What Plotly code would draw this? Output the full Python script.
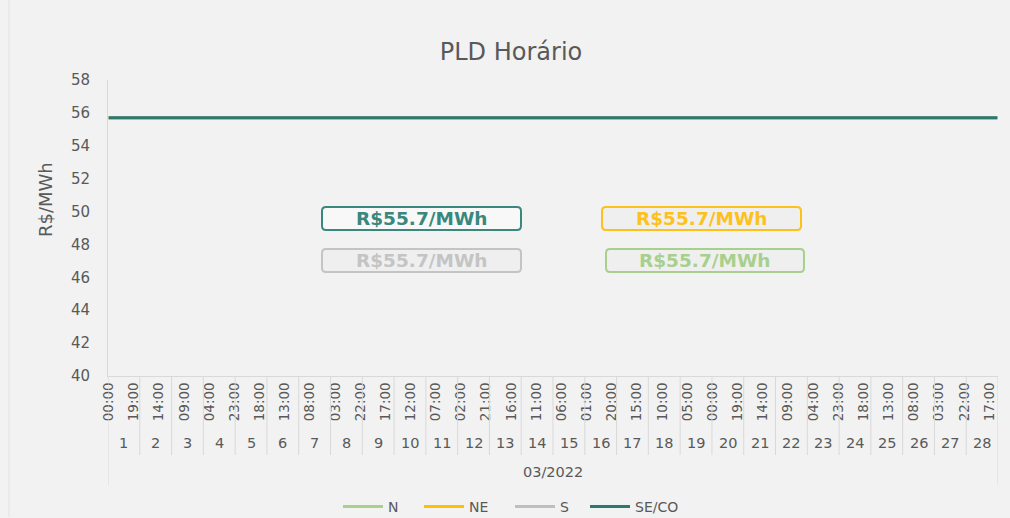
import pandas as pd
import plotly.graph_objects as go

# ---------------- data ----------------
hours = pd.date_range("2022-03-01 00:00", "2022-03-28 23:00", freq="h")
n_hours = len(hours)
days = list(range(1, 29))
month_label = "03/2022"
series_names = ["N", "NE", "S", "SE/CO"]
pld_value = {"N": 55.7, "NE": 55.7, "S": 55.7, "SE/CO": 55.7}   # flat PLD (minimum price) all month
pld_series = {k: [v] * n_hours for k, v in pld_value.items()}
tick_step = 19
tick_idx = list(range(0, n_hours, tick_step))
tick_text = [hours[i].strftime("%H:%M") for i in tick_idx]

# ---------------- style ----------------
colors = {"N": "#a9d18e", "NE": "#ffc000", "S": "#bfbfbf", "SE/CO": "#2a7a70"}
txt_colors = {"N": "#a8d08d", "NE": "#fdc11a", "S": "#c4c4c4", "SE/CO": "#3a877d"}
box_bg = {"N": "#efefef", "NE": "#efefef", "S": "#efefef", "SE/CO": "#f8f8f8"}
legend_x_px = {"N": 343, "NE": 424, "S": 515, "SE/CO": 590}
FONT = "DejaVu Sans"
GRAY = "#595959"
LINE = "#d9d9d9"

W, H = 1010, 518
L, R, T, B = 108, 12, 80, 142
PW, PH = W - L - R, H - T - B


def px(xp):
    return (xp - L) / PW


def py(yp):
    return (T + PH - yp) / PH


fig = go.Figure()
x_idx = list(range(n_hours))
legend_layouts = {}
for i, name in enumerate(series_names):
    lg = "legend" if i == 0 else f"legend{i + 1}"
    fig.add_trace(go.Scatter(
        x=x_idx, y=pld_series[name], mode="lines", name=name, legend=lg,
        line=dict(color=colors[name], width=3),
        text=[h.strftime("%d/%m %H:%M") for h in hours],
        hovertemplate="%{text}<br>%{y} R$/MWh<extra>" + name + "</extra>",
    ))
    legend_layouts[lg] = dict(
        orientation="h", xref="container", yref="container",
        x=(legend_x_px[name] - 5) / W, xanchor="left", y=1 - 507 / H,
        yanchor="middle", font=dict(family=FONT, size=14, color=GRAY),
        bgcolor="rgba(0,0,0,0)", itemwidth=40)

shapes = []
# day separators in the multi-level category axis
for k in range(len(days) + 1):
    xv = 24 * k - 0.5
    outer = k == 0 or k == len(days)
    shapes.append(dict(type="line", xref="x", yref="paper", x0=xv, x1=xv,
                       y0=0, y1=py(485) if outer else py(455),
                       line=dict(color=LINE, width=1)))
# faint chart-area border on the left
shapes.append(dict(type="line", xref="paper", yref="paper", x0=px(9), x1=px(9),
                   y0=py(0), y1=py(517), line=dict(color="#e2e2e2", width=1)))

annotations = []
for d in days:
    annotations.append(dict(x=24 * (d - 1) + 11.5, y=py(443), xref="x", yref="paper",
                            text=str(d), showarrow=False, yanchor="middle",
                            font=dict(family=FONT, size=14.5, color=GRAY)))
annotations.append(dict(x=(n_hours - 1) / 2, y=py(472), xref="x", yref="paper",
                        text=month_label, showarrow=False, yanchor="middle",
                        font=dict(family=FONT, size=14.5, color=GRAY)))
annotations.append(dict(x=px(45), y=py(200), xref="paper", yref="paper",
                        text="R$/MWh", textangle=-90, showarrow=False,
                        xanchor="center", yanchor="middle",
                        font=dict(family=FONT, size=18, color=GRAY)))

# value text boxes (rounded)
boxes = {"SE/CO": (322, 521, 207, 230), "NE": (602, 801, 207, 230),
         "S": (322, 521, 249, 272), "N": (606, 804, 249, 272)}
r = 4
for name, (x0, x1, y0, y1) in boxes.items():
    path = (f"M {px(x0 + r)},{py(y0)} L {px(x1 - r)},{py(y0)} "
            f"Q {px(x1)},{py(y0)} {px(x1)},{py(y0 + r)} L {px(x1)},{py(y1 - r)} "
            f"Q {px(x1)},{py(y1)} {px(x1 - r)},{py(y1)} L {px(x0 + r)},{py(y1)} "
            f"Q {px(x0)},{py(y1)} {px(x0)},{py(y1 - r)} L {px(x0)},{py(y0 + r)} "
            f"Q {px(x0)},{py(y0)} {px(x0 + r)},{py(y0)} Z")
    shapes.append(dict(type="path", xref="paper", yref="paper", path=path,
                       line=dict(color=txt_colors[name], width=2),
                       fillcolor=box_bg[name], layer="above"))
    annotations.append(dict(x=px((x0 + x1) / 2), y=py((y0 + y1) / 2),
                            xref="paper", yref="paper", showarrow=False,
                            xanchor="center", yanchor="middle",
                            text=f"<b>R${pld_value[name]}/MWh</b>",
                            font=dict(family=FONT, size=18.5, color=txt_colors[name])))

fig.update_layout(
    width=W, height=H,
    margin=dict(l=L, r=R, t=T, b=B, autoexpand=False),
    paper_bgcolor="#f2f2f2", plot_bgcolor="#f2f2f2",
    title=dict(text="PLD Horário", xref="container", yref="container",
               x=511 / W, y=1 - 52 / H, xanchor="center", yanchor="middle",
               font=dict(family=FONT, size=24, color=GRAY)),
    xaxis=dict(range=[-0.5, n_hours - 0.5], tickvals=tick_idx, ticktext=tick_text,
               tickangle=-90, showgrid=False, zeroline=False,
               showline=True, linecolor=LINE, linewidth=1, ticks="",
               tickfont=dict(family=FONT, size=13.5, color=GRAY)),
    yaxis=dict(range=[40, 58], dtick=2, showgrid=False, zeroline=False,
               showline=True, linecolor=LINE, linewidth=1, ticks="",
               ticklabelstandoff=14,
               tickfont=dict(family=FONT, size=15, color=GRAY)),
    shapes=shapes, annotations=annotations,
    showlegend=True,
    **legend_layouts,
)

fig.write_html("out.html", config={"displayModeBar": False},
               post_script="document.body.style.margin='0';"
                           "document.body.style.background='#f2f2f2';")
